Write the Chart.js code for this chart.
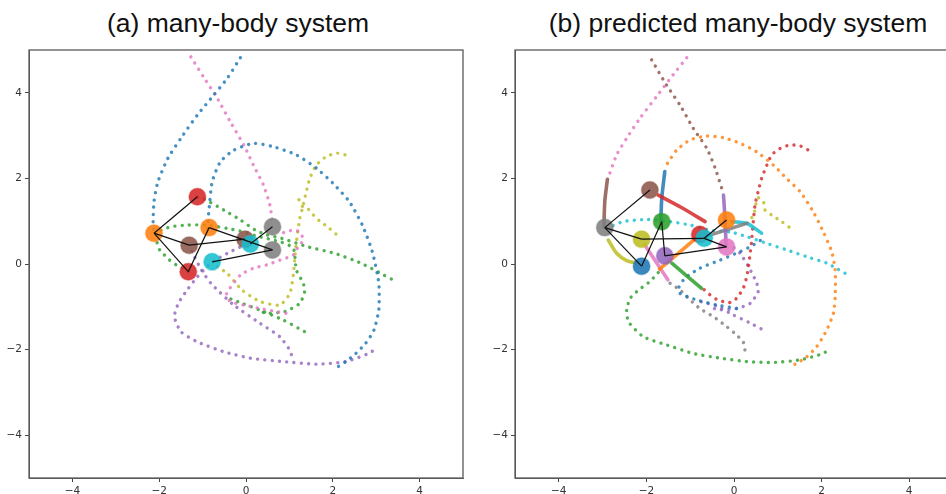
<!DOCTYPE html>
<html><head><meta charset="utf-8">
<script src="https://cdn.jsdelivr.net/npm/chart.js@4.4.1/dist/chart.umd.min.js"></script>
<style>
html,body{margin:0;padding:0;background:#fff;overflow:hidden;}
#wrap{position:relative;width:946px;height:494px;overflow:hidden;}
.ttl{position:absolute;top:10px;font-family:"Liberation Sans",Arial,sans-serif;font-size:26.5px;line-height:1;color:#111;white-space:nowrap;transform:translateX(-50%);}
canvas{position:absolute;top:0;}
</style></head>
<body><div id="wrap">
<div class="ttl" style="left:238px">(a) many-body system</div>
<div class="ttl" style="left:738px">(b) predicted many-body system</div>
<canvas id="ca" width="473" height="494" style="left:0;width:473px;height:494px"></canvas>
<canvas id="cb" width="490" height="494" style="left:473px;width:490px;height:494px"></canvas>
</div>
<script>
// ---- axis ticks ----
const xTicks = [-4, -2, 0, 2, 4];
const yTicks = [-4, -2, 0, 2, 4];

// ---- (a) ground-truth trajectories (dotted) ----
const aBlue1 = [[-0.13,4.82],[-0.43,4.34],[-0.74,3.95],[-1.12,3.48],[-1.5,2.94],[-1.8,2.47],[-2.03,1.92],[-2.12,1.46],[-2.14,0.99],[-2.12,0.72]];
const aBlue2 = [[-0.89,0.83],[-0.85,1.3],[-0.78,1.92],[-0.59,2.39],[-0.28,2.66],[0.17,2.82],[0.63,2.74],[1.16,2.55],[1.62,2.24],[2.0,1.89],[2.38,1.46],[2.68,0.91],[2.91,0.29],[3.06,-0.45],[3.06,-1.07],[2.95,-1.54],[2.76,-1.85],[2.53,-2.09],[2.3,-2.28],[2.0,-2.48]];
const aPink1 = [[-1.27,4.84],[-0.96,4.34],[-0.66,3.87],[-0.36,3.32],[-0.05,2.78],[0.17,2.31],[0.4,1.85],[0.55,1.38],[0.61,0.95]];
const aPink2 = [[0.92,-1.15],[0.63,-1.1],[0.33,-1.04],[-0.05,-0.96],[-0.36,-0.88],[-0.45,-0.7],[-0.13,-0.26],[0.17,-0.1],[0.48,-0.02],[0.78,0.09],[1.09,0.21],[1.2,0.4],[1.32,0.56],[1.24,0.75],[1.09,0.79],[0.9,0.75],[0.78,0.68]];
const aGreen1 = [[-1.12,1.57],[-0.93,1.5],[-0.51,1.26],[-0.13,1.03],[0.2,0.8],[0.48,0.68],[0.82,0.6],[1.43,0.4],[2.04,0.25],[2.65,0.02],[3.18,-0.26],[3.37,-0.36]];
const aGreen2 = [[-1.33,-0.18],[-1.46,-0.1],[-1.61,-0.02],[-1.76,0.09],[-1.88,0.21],[-1.99,0.33],[-2.06,0.55],[-2.03,0.75],[-1.73,0.87],[-1.35,0.91],[-0.89,0.91],[-0.43,0.83],[-0.05,0.75],[0.21,0.66],[0.78,0.52],[1.09,0.37],[1.16,-0.14],[1.32,-0.45],[1.35,-0.65],[1.24,-0.92],[0.9,-1.11],[0.52,-1.15],[0.25,-1.1]];
const aGreen3 = [[-0.35,-0.82],[-0.09,-0.92],[0.4,-1.11],[0.86,-1.31],[1.35,-1.58]];
const aOlive1 = [[-0.66,-0.06],[-0.43,-0.22],[-0.09,-0.61],[0.33,-0.88],[0.78,-0.96],[1.01,-0.69],[1.09,-0.26],[1.12,0.09],[1.16,0.5],[1.24,1.07],[1.32,1.38],[1.39,1.69],[1.47,2.0],[1.62,2.31],[1.85,2.51],[2.11,2.59],[2.42,2.51]];
const aOlive2 = [[1.22,1.5],[1.3,1.35],[1.42,1.3],[1.5,1.2],[1.68,1.02],[1.9,0.85],[2.19,0.6]];
const aPurple1 = [[-0.02,0.5],[-0.13,0.4],[-0.43,0.25],[-0.81,0.02],[-1.12,-0.3],[-1.35,-0.6],[-1.55,-0.9],[-1.65,-1.23],[-1.5,-1.58],[-1.12,-1.82],[-0.51,-2.05],[0.1,-2.2],[0.86,-2.28],[1.62,-2.34],[2.3,-2.28],[2.83,-2.09],[2.95,-2.01]];
const aPurple2 = [[-1.25,0.3],[-1.05,-0.1],[-0.81,-0.45],[-0.28,-0.96],[0.33,-1.39],[0.78,-1.7],[1.01,-2.01],[1.05,-2.13]];

// ---- (a) bodies ----
const aNodeX = [-1.12,-2.12,-0.85,-1.31,-0.02,0.1,0.61,0.61,-0.78,-1.33];
const aNodeY = [1.57,0.72,0.85,0.44,0.58,0.47,0.87,0.33,0.05,-0.18];
const aNodeC = ['red','orange','orange','brown','brown','cyan','gray','gray','cyan','red'];
const aEdges = [[1,0],[1,3],[1,9],[9,2],[2,7],[3,4],[5,6],[8,7]];

// ---- (b) predicted trajectories ----
const bPink = [[-1.08,4.82],[-1.39,4.42],[-1.77,3.91],[-2.15,3.4],[-2.45,2.94],[-2.68,2.55],[-2.85,2.08]];
const bBrown = [[-1.88,4.77],[-1.54,4.18],[-1.23,3.71],[-0.93,3.17],[-0.62,2.7],[-0.43,2.24],[-0.28,1.77]];
const bOrange = [[-1.52,2.35],[-1.31,2.66],[-1.0,2.9],[-0.62,2.99],[-0.24,2.95],[0.14,2.82],[0.52,2.62],[0.9,2.31],[1.2,2.0],[1.51,1.69],[1.81,1.22],[2.04,0.75],[2.23,0.29],[2.31,-0.14],[2.31,-0.76],[2.27,-1.15],[2.12,-1.54],[1.89,-1.93],[1.66,-2.17],[1.43,-2.32],[1.32,-2.38]];
const bRed = [[-0.68,-0.6],[-0.55,-0.72],[-0.39,-0.83],[-0.24,-0.88],[-0.09,-0.9],[0.06,-0.8],[0.21,-0.57],[0.29,-0.3],[0.33,-0.06],[0.37,0.25],[0.4,0.52],[0.44,0.99],[0.48,1.38],[0.55,1.69],[0.63,2.0],[0.75,2.31],[0.86,2.55],[1.05,2.7],[1.28,2.78],[1.51,2.76],[1.7,2.66]];
const bCyan = [[-2.91,0.83],[-2.53,0.99],[-1.99,1.04],[-1.46,0.99],[-1.0,0.91],[-0.55,0.79],[-0.09,0.75],[0.29,0.64],[0.75,0.48],[1.2,0.33],[1.66,0.17],[2.12,0.02],[2.34,-0.1],[2.61,-0.26]];
const bGreen = [[-1.73,-0.2],[-1.92,-0.41],[-2.18,-0.61],[-2.37,-0.8],[-2.45,-1.07],[-2.41,-1.35],[-2.07,-1.7],[-1.54,-1.89],[-0.93,-2.09],[-0.32,-2.2],[0.29,-2.28],[0.9,-2.3],[1.51,-2.24],[2.04,-2.09],[2.19,-1.97]];
const bBlue = [[0.6,0.55],[0.4,0.42],[0.14,0.29],[-0.32,0.09],[-0.78,-0.1],[-1.12,-0.33],[-1.27,-0.57],[-1.23,-0.69],[-0.85,-0.84],[-0.39,-0.96],[0.06,-1.04],[0.18,-1.06]];
const bPurple1 = [[0.0,0.38],[0.14,0.25],[0.33,-0.06],[0.52,-0.45],[0.55,-0.65],[0.37,-0.92],[0.06,-1.04],[-0.32,-1.07],[-0.6,-1.0]];
const bPurple2 = [[-0.75,-0.88],[-0.4,-0.98],[-0.02,-1.19],[0.35,-1.37],[0.67,-1.54]];
const bGray = [[-1.46,-0.45],[-1.23,-0.61],[-1.0,-0.84],[-0.78,-1.04],[-0.47,-1.23],[-0.17,-1.46],[0.06,-1.66],[0.21,-1.82],[0.25,-2.01]];
const bOlive = [[0.3,0.95],[0.45,1.15],[0.5,1.4],[0.55,1.55],[0.67,1.46],[0.71,1.26],[0.85,1.15],[1.09,0.99],[1.35,0.79]];
// solid predicted segments
const bBrownSolid = [[-2.89,1.98],[-2.95,1.46],[-2.97,0.87]];
const bPurpleSolid = [[-0.24,1.61],[-0.21,1.14],[-0.18,0.44]];
const bOrangeSolid = [[-1.7,-0.12],[-0.78,0.68]];
const bRedSolid = [[-1.73,1.61],[-1.2,1.32],[-0.66,0.99]];
const bBlueSolid = [[-1.58,2.16],[-1.65,1.53],[-1.67,0.99]];
const bGreenSolid = [[-1.42,0.02],[-0.74,-0.57]];
const bPinkSolid = [[-2.04,0.45],[-1.51,-0.37]];
const bOliveSolid = [[-2.87,0.56],[-2.68,0.25],[-2.45,0.08],[-2.22,0.02]];
const bGraySolid = [[-0.66,0.64],[0.29,0.95]];
const bCyanSolid = [[-0.05,0.99],[0.29,0.95],[0.48,0.83],[0.63,0.72]];

// ---- (b) bodies ----
const bNodeX = [-1.92,-2.95,-1.65,-2.11,-2.11,-1.58,-0.78,-0.68,-0.17,-0.17];
const bNodeY = [1.73,0.85,0.99,0.58,-0.05,0.19,0.69,0.6,1.03,0.4];
const bNodeC = ['brown','gray','green','olive','blue','purple','red','cyan','orange','pink'];
const bEdges = [[1,0],[1,3],[1,4],[4,2],[2,5],[5,9],[9,7],[7,8],[3,7]];

// ---- style ----
const tab = {blue:'31,119,180',orange:'255,127,14',green:'44,160,44',red:'214,39,40',purple:'148,103,189',brown:'140,86,75',pink:'227,119,194',gray:'127,127,127',olive:'188,189,34',cyan:'23,190,207'};
const col = (n,a) => 'rgba(' + tab[n] + ',' + a + ')';
const pts = arr => arr.map(p => ({x:p[0], y:p[1]}));

function dotted(arr, c){
  return {data:pts(arr), showLine:true, pointRadius:0, borderColor:col(c,0.82), borderWidth:3.4,
    borderDash:[0.01,7.3], borderCapStyle:'round', tension:0.2, order:3};
}
function solid(arr, c){
  return {data:pts(arr), showLine:true, pointRadius:0, borderColor:col(c,0.85), borderWidth:3.6,
    borderCapStyle:'round', tension:0.25, order:2};
}
function nodes(nx, ny, nc){
  return {data:nx.map((x,i)=>({x:x,y:ny[i]})), showLine:false, pointRadius:8.5, pointHoverRadius:8.5,
    backgroundColor:nc.map(c=>col(c,0.88)), pointBorderColor:nc.map(c=>col(c,0.35)), pointBorderWidth:1.5, order:1};
}
function edges(nx, ny, e){
  return e.map(([i,j]) => ({data:[{x:nx[i],y:ny[i]},{x:nx[j],y:ny[j]}], showLine:true, pointRadius:0,
    borderColor:'#111', borderWidth:1.2, order:0}));
}

const framePlugin = {id:'frame', afterDraw(chart){
  const a = chart.chartArea, ctx = chart.ctx;
  ctx.save(); ctx.strokeStyle = '#5a5a5a'; ctx.lineWidth = 1.3;
  ctx.strokeRect(a.left, a.top, a.right - a.left, a.bottom - a.top); ctx.restore();
}};

function makeChart(id, datasets, yw, rp){
  const fmt = v => (v < 0 ? '\u2212' + Math.abs(v) : String(v));
  const common = {
    min:-5, max:5,
    grid:{display:true, drawOnChartArea:false, drawTicks:true, tickLength:4, color:'#444'},
    border:{display:true, color:'#5a5a5a'},
    ticks:{font:{family:'DejaVu Sans', size:10.5}, color:'#333', padding:3, callback:fmt, autoSkip:false, maxRotation:0}
  };
  new Chart(document.getElementById(id), {
    type:'scatter',
    data:{datasets:datasets},
    options:{
      responsive:false, animation:false, devicePixelRatio:1,
      layout:{padding:{left:0, top:50, right:rp, bottom:0}},
      plugins:{legend:{display:false}, tooltip:{enabled:false}, title:{display:false}},
      scales:{
        x:Object.assign({}, common, {type:'linear', position:'bottom',
          afterBuildTicks:s=>{s.ticks = xTicks.map(v=>({value:v}));},
          afterFit:s=>{s.height = 16;}}),
        y:Object.assign({}, common, {type:'linear', position:'left',
          afterBuildTicks:s=>{s.ticks = yTicks.map(v=>({value:v}));},
          afterFit:s=>{s.width = yw;}})
      }
    },
    plugins:[framePlugin]
  });
}

const aSets = [].concat(
  edges(aNodeX, aNodeY, aEdges),
  [nodes(aNodeX, aNodeY, aNodeC)],
  [dotted(aBlue1,'blue'), dotted(aBlue2,'blue'), dotted(aPink1,'pink'), dotted(aPink2,'pink'),
   dotted(aGreen1,'green'), dotted(aGreen2,'green'), dotted(aGreen3,'green'),
   dotted(aOlive1,'olive'), dotted(aOlive2,'olive'), dotted(aPurple1,'purple'), dotted(aPurple2,'purple')]
);
const bSets = [].concat(
  edges(bNodeX, bNodeY, bEdges),
  [nodes(bNodeX, bNodeY, bNodeC)],
  [solid(bBrownSolid,'brown'), solid(bPurpleSolid,'purple'), solid(bOrangeSolid,'orange'), solid(bRedSolid,'red'),
   solid(bBlueSolid,'blue'), solid(bGreenSolid,'green'), solid(bPinkSolid,'pink'), solid(bOliveSolid,'olive'),
   solid(bGraySolid,'gray'), solid(bCyanSolid,'cyan')],
  [dotted(bPink,'pink'), dotted(bBrown,'brown'), dotted(bOrange,'orange'), dotted(bRed,'red'), dotted(bCyan,'cyan'),
   dotted(bGreen,'green'), dotted(bBlue,'blue'), dotted(bPurple1,'purple'), dotted(bPurple2,'purple'),
   dotted(bGray,'gray'), dotted(bOlive,'olive')]
);

makeChart('ca', aSets, 29, 5);
makeChart('cb', bSets, 42, 10);
</script>
</body></html>
